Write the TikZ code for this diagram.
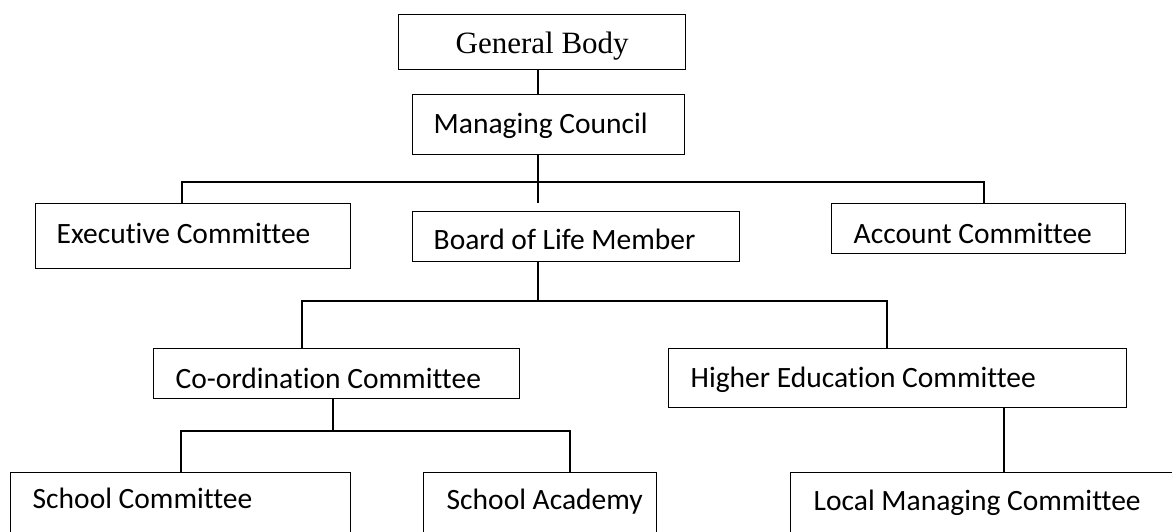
\documentclass[tikz,border=0pt]{standalone}
\usepackage{fontspec}
\setmainfont{Carlito}[Ligatures={NoCommon}]
\newfontfamily\gbfont{Liberation Serif}
\newcommand\bxtext[3]{\makebox[#1pt][l]{\hspace*{#2pt}#3}}
\begin{document}
\begin{tikzpicture}[x=1pt,y=-1pt,
  box/.style={draw, line width=1.4pt, rectangle, inner sep=0pt, anchor=north west,
    font=\fontsize{29.5}{34}\selectfont},
  conn/.style={line width=1.4pt}]
\useasboundingbox (0,0) rectangle (1172,532);
\clip (0,0) rectangle (1172,532);
\fill[white] (0,0) rectangle (1172,532);
% nodes
\node[box, font=\gbfont\fontsize{31}{36}\selectfont, text height=39pt, text depth=16pt] (GB) at (398,14) {\makebox[287pt]{General Body}};
\node[box, text height=39pt, text depth=21pt] (MC) at (412,94) {\bxtext{272}{21}{Managing Council}};
\node[box, text height=40pt, text depth=25pt] (EC) at (35,203) {\bxtext{315}{21}{Executive Committee}};
\node[box, text height=38pt, text depth=12pt] (BL) at (412,211) {\bxtext{327}{21}{Board of Life Member}};
\node[box, text height=40pt, text depth=10pt] (AC) at (831,203) {\bxtext{294}{22}{Account Committee}};
\node[box, text height=40pt, text depth=10pt] (CC) at (153,348) {\bxtext{366}{22}{Co-ordination Committee}};
\node[box, text height=39pt, text depth=20pt] (HE) at (668,348) {\bxtext{458}{22}{Higher Education Committee}};
\node[box, text height=36pt, text depth=80pt] (SC) at (10,472) {\bxtext{340}{22}{School Committee}};
\node[box, text height=37pt, text depth=80pt] (SA) at (423,472) {\bxtext{233}{23}{School Academy}};
\node[box, text height=38pt, text depth=80pt] (LM) at (790,472) {\bxtext{440}{23}{Local Managing Committee}};
% junctions
\coordinate (j1) at (538,182);
\coordinate (j1b) at (538,203);
\coordinate (b1l) at (182,182);
\coordinate (b1r) at (984,182);
\coordinate (j2) at (538,301);
\coordinate (b2l) at (302,301);
\coordinate (b2r) at (887,301);
\coordinate (j3) at (333,431);
\coordinate (b3l) at (181,431);
\coordinate (b3r) at (570,431);
\coordinate (j4) at (1004,0);
% connectors
\draw[conn] (GB.south -| j1) -- (MC.north -| j1);
\draw[conn] (MC.south -| j1) -- (j1b);
\draw[conn] (EC.north -| b1l) -- (b1l) -- (b1r) -- (AC.north -| b1r);
\draw[conn] (BL.south -| j2) -- (j2);
\draw[conn] (CC.north -| b2l) -- (b2l) -- (b2r) -- (HE.north -| b2r);
\draw[conn] (CC.south -| j3) -- (j3);
\draw[conn] (SC.north -| b3l) -- (b3l) -- (b3r) -- (SA.north -| b3r);
\draw[conn] (HE.south -| j4) -- (LM.north -| j4);
\end{tikzpicture}
\end{document}
